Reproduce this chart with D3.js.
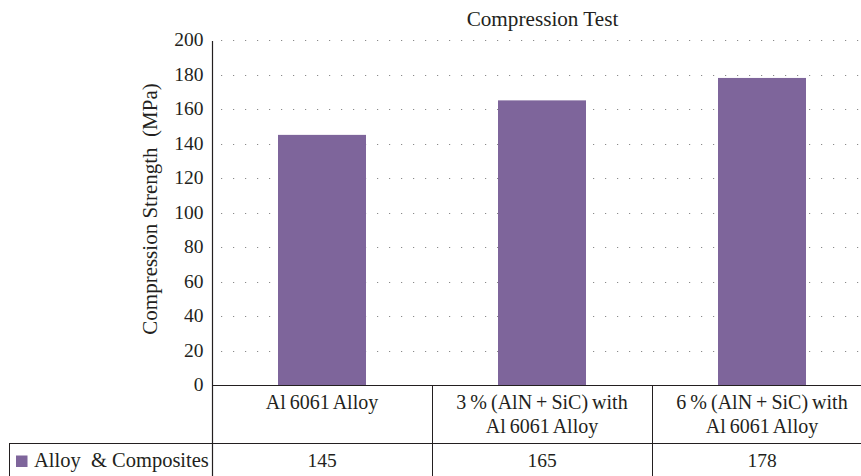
<!DOCTYPE html>
<html>
<head>
<meta charset="utf-8">
<script src="https://cdn.jsdelivr.net/npm/d3@7"></script>
<style>
  html, body { margin: 0; padding: 0; background: #fff; }
  svg { display: block; }
  svg text { font-family: "Liberation Serif", "Tinos", "Times New Roman", Times; }
</style>
</head>
<body>
<svg id="chart" width="861" height="476"></svg>
<script>
const categories = ["Al 6061 Alloy", "3 % (AlN + SiC) with\nAl 6061 Alloy", "6 % (AlN + SiC) with\nAl 6061 Alloy"];
const values = [145, 165, 178];
const seriesName = "Alloy  & Composites";
const yTicks = [0, 20, 40, 60, 80, 100, 120, 140, 160, 180, 200];
const title = "Compression Test";
const yLabel = "Compression Strength  (MPa)";

const W = 861, H = 476;
const plotLeft = 212, plotRight = 872, plotTop = 40, zeroY = 385;
const tableRow = 443, tableLeft = 9.5;
const fontSize = 19.5;
const FONT = '"Liberation Serif", "Tinos", "Times New Roman", Times';
const textColor = "#231f20";
const barColor = "#7e659b";

const svg = d3.select("#chart");

const x = d3.scaleBand().domain(categories).range([plotLeft, plotRight]).padding(0);
const y = d3.scaleLinear().domain([0, 200]).range([zeroY, plotTop]);

function styleText(sel, size) {
  return sel.style("font-family", FONT).style("font-size", size + "px").style("fill", textColor);
}

// gridlines
svg.append("g").selectAll("line")
  .data(yTicks.filter(d => d > 0))
  .join("line")
  .attr("x1", plotLeft + 9).attr("x2", W)
  .attr("y1", d => Math.round(y(d)) + 0.5).attr("y2", d => Math.round(y(d)) + 0.5)
  .attr("stroke", "#8a8a8a").attr("stroke-width", 1)
  .attr("stroke-dasharray", "1.2,10.8");

// bars
const bw = x.bandwidth() * 0.4;
svg.append("g").selectAll("rect")
  .data(values)
  .join("rect")
  .attr("x", (d, i) => x(categories[i]) + (x.bandwidth() - bw) / 2)
  .attr("width", bw)
  .attr("y", d => y(d))
  .attr("height", d => y(0) - y(d))
  .attr("fill", barColor);

// y axis
const yAxis = d3.axisLeft(y).tickValues(yTicks).tickSize(0).tickPadding(9);
const gy = svg.append("g").attr("transform", `translate(${plotLeft + 0.5},0)`).call(yAxis);
gy.attr("font-family", FONT);
gy.select(".domain").remove();
styleText(gy.selectAll("text"), fontSize).attr("dy", "0.3em");

// axis lines & table lines
const lineColor = "#231f20";
svg.append("line").attr("x1", plotLeft + 0.5).attr("x2", plotLeft + 0.5).attr("y1", y(200) + 1).attr("y2", H)
  .attr("stroke", lineColor).attr("stroke-width", 1.2);
svg.append("line").attr("x1", plotLeft).attr("x2", W).attr("y1", zeroY + 0.5).attr("y2", zeroY + 0.5)
  .attr("stroke", lineColor).attr("stroke-width", 1.2);
svg.append("line").attr("x1", tableLeft).attr("x2", W).attr("y1", tableRow + 0.5).attr("y2", tableRow + 0.5)
  .attr("stroke", lineColor).attr("stroke-width", 1);
svg.append("line").attr("x1", tableLeft).attr("x2", tableLeft).attr("y1", tableRow).attr("y2", H)
  .attr("stroke", lineColor).attr("stroke-width", 1);
svg.append("g").selectAll("line")
  .data(categories.slice(1))
  .join("line")
  .attr("x1", d => Math.round(x(d)) + 0.5).attr("x2", d => Math.round(x(d)) + 0.5)
  .attr("y1", zeroY).attr("y2", H)
  .attr("stroke", lineColor).attr("stroke-width", 1);

// category labels
styleText(svg.append("g").selectAll("text")
  .data(categories)
  .join("text"), 20)
  .attr("text-anchor", "middle")
  .style("word-spacing", "-1px")
  .each(function(d) {
    const t = d3.select(this);
    d.split("\n").forEach((line, i) => {
      t.append("tspan").attr("x", x(d) + x.bandwidth() / 2).attr("y", 409 + i * 24).text(line);
    });
  });

// values row
styleText(svg.append("g").selectAll("text")
  .data(values)
  .join("text"), fontSize)
  .attr("text-anchor", "middle")
  .attr("x", (d, i) => x(categories[i]) + x.bandwidth() / 2)
  .attr("y", 466.5)
  .text(d => d);

// legend cell
svg.append("rect").attr("x", 16).attr("y", 455.5).attr("width", 11.5).attr("height", 11.5).attr("fill", barColor);
styleText(svg.append("text"), 20.5).attr("x", 34).attr("y", 466.5)
  .style("white-space", "pre").text(seriesName);

// title
styleText(svg.append("text"), 21.2).attr("x", 542.5).attr("y", 26).attr("text-anchor", "middle")
  .text(title);

// y label
styleText(svg.append("text"), 21)
  .attr("transform", `translate(157,209) rotate(-90)`)
  .attr("text-anchor", "middle")
  .style("white-space", "pre")
  .text(yLabel);
</script>
</body>
</html>
